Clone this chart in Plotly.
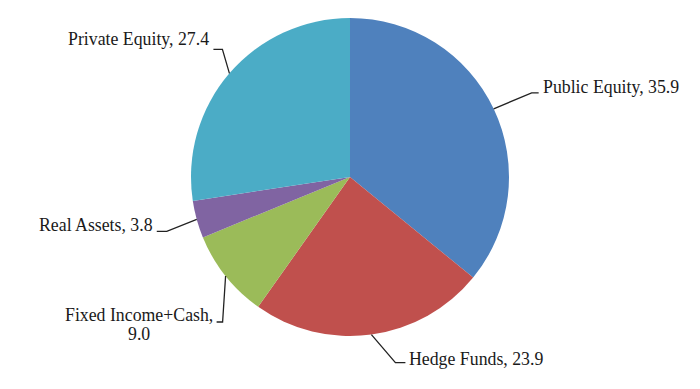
import math
import plotly.graph_objects as go

# ---- data ----
categories = ["Public Equity", "Hedge Funds", "Fixed Income+Cash", "Real Assets", "Private Equity"]
values = [35.9, 23.9, 9.0, 3.8, 27.4]
label_texts = ["Public Equity, 35.9", "Hedge Funds, 23.9", "Fixed Income+Cash,\n9.0",
               "Real Assets, 3.8", "Private Equity, 27.4"]

# ---- style / layout ----
colors = ["#4F81BD", "#C0504D", "#9BBB59", "#8064A2", "#4BACC6"]
W, H = 700, 389
CX, CY, R = 350.0, 177.0, 159.0   # pie centre / radius in pixels
# leader elbow offsets (from slice edge), horizontal tail length, text offset from tail end
leader = [
    dict(elbow=(38, -16), tail=7, align="left", toff=(2, -6)),
    dict(elbow=(24, 28), tail=10, align="left", toff=(2, -4)),
    dict(elbow=(-3, 46), tail=-6, align="center", toff=(-78, -7)),
    dict(elbow=(-30, 12), tail=-10, align="right", toff=(-2, -6)),
    dict(elbow=(-7, -24), tail=-9, align="right", toff=(-2, -10)),
]
LINE_GAP = 19
FONT = dict(family="Liberation Serif, Times New Roman, serif", size=17.8, color="#1a1a1a")


def px2paper(x, y):
    return x / W, 1 - y / H


fig = go.Figure(go.Pie(
    labels=categories, values=values, sort=False, direction="clockwise", rotation=0,
    marker=dict(colors=colors, line=dict(width=0)), textinfo="none", showlegend=False,
    domain=dict(x=[(CX - R) / W, (CX + R) / W], y=[1 - (CY + R) / H, 1 - (CY - R) / H]),
))

total = sum(values)
cum = 0.0
shapes, annotations = [], []
for v, txt, ld in zip(values, label_texts, leader):
    mid = (cum + v / 2) / total * 2 * math.pi
    cum += v
    ex, ey = CX + R * math.sin(mid), CY - R * math.cos(mid)
    bx, by = ex + ld["elbow"][0], ey + ld["elbow"][1]
    tx, ty = bx + ld["tail"], by
    p = [px2paper(ex, ey), px2paper(bx, by), px2paper(tx, ty)]
    path = "M {} {} L {} {} L {} {}".format(p[0][0], p[0][1], p[1][0], p[1][1], p[2][0], p[2][1])
    shapes.append(dict(type="path", xref="paper", yref="paper", path=path,
                       line=dict(color="#222222", width=1.3)))
    for i, line in enumerate(txt.split("\n")):
        ax, ay = tx + ld["toff"][0], ty + ld["toff"][1] + i * LINE_GAP
        qx, qy = px2paper(ax, ay)
        annotations.append(dict(x=qx, y=qy, xref="paper", yref="paper", text=line, showarrow=False,
                                xanchor=ld["align"], yanchor="middle", align="center", font=FONT))

fig.update_layout(width=W, height=H, margin=dict(l=0, r=0, t=0, b=0),
                  paper_bgcolor="white", plot_bgcolor="white",
                  shapes=shapes, annotations=annotations)
fig.write_html("out.html")
